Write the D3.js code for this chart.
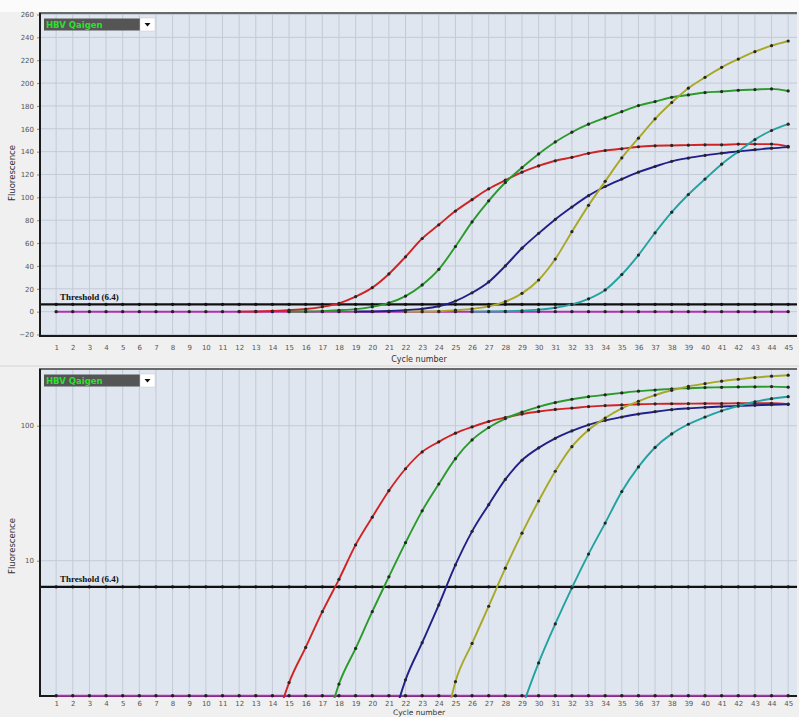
<!DOCTYPE html>
<html><head><meta charset="utf-8">
<script src="https://cdn.jsdelivr.net/npm/d3@7"></script>
<style>body{margin:0;background:#f0f0f0;overflow:hidden}</style>
</head><body><svg id="c" width="799" height="717"></svg>
<script>
// ---------- DATA ----------
const cycles = [1,2,3,4,5,6,7,8,9,10,11,12,13,14,15,16,17,18,19,20,21,22,23,24,25,26,27,28,29,30,31,32,33,34,35,36,37,38,39,40,41,42,43,44,45];
const thresholdValue = 6.4;
const legendLabel = "HBV Qaigen";
const linearTicks = [-20,0,20,40,60,80,100,120,140,160,180,200,220,240,260];
const logTicks = [10,100];

// NTC (flat) series, cycles 1..45
const ntcValues = [0,0,0,0,0,0,0,0,0,0,0,0,0,0,0,0,0,0,0,0,0,0,0,0,0,0,0,0,0,0,0,0,0,0,0,0,0,0,0,0,0,0,0,0,0];
// amplification series: first cycle + values
const redStart = 12;
const redValues = [0.05,0.15,0.5,1.25,2.28,4.19,7.28,13.1,21,33,48,64,76,88,98,107.5,115,122,127.5,132,135,138.5,141,142.5,144.3,145.1,145.4,145.7,146,146,146.6,146.6,146.6,144.6];
const greenStart = 15;
const greenValues = [0.05,0.15,0.45,1.22,2.24,4.19,7.6,13.6,23.4,37,57,78.5,97,113,126,138,148.5,157,164,169.5,175,180.3,183.8,187.6,189.6,191.7,192.6,193.7,194.3,194.9,193.1];
const blueStart = 19;
const blueValues = [0.05,0.15,0.5,1.31,2.47,4.7,9.3,16.5,26,40,55.5,68.5,80.7,91.5,101.5,109.5,116,122,127,131.5,134.4,136.7,138.7,140.2,141.7,143,144];
const oliveStart = 22;
const oliveValues = [0.03,0.1,0.35,1.27,2.44,4.6,8.8,16,27.7,46,70,93,114,134.5,151.8,168.7,183,195.5,205,213.8,221,227.5,232.7,236.8];
const tealStart = 26;
const tealValues = [0.03,0.1,0.3,0.8,1.75,3.4,6.3,11.2,19,32.5,49.5,69,87,102.5,116,129,140,150.5,158.5,164];

// ---------- STYLE ----------
const series = [
  {start: redStart, values: redValues, color: "#d02424"},
  {start: greenStart, values: greenValues, color: "#2a9a2a"},
  {start: blueStart, values: blueValues, color: "#202088"},
  {start: oliveStart, values: oliveValues, color: "#a8a826"},
  {start: tealStart, values: tealValues, color: "#22a2a0"}
];
const ntcColor = "#b030b0";
const plotBg = "#dfe6ef", gridColor = "#c3cbd7";
const L = 40, R = 797;

const svg = d3.select("#c");
svg.append("rect").attr("width",799).attr("height",717).attr("fill","#f0f0f0");
svg.append("rect").attr("width",799).attr("height",12).attr("fill","#fbfbfb");

const x = d3.scaleLinear().domain([0,45.5]).range([39.5,796.5]);

function panel(opts){
  const g = svg.append("g");
  const y = opts.y;
  const top = opts.top, bottom = opts.bottom;
  g.append("rect").attr("x",L).attr("y",top).attr("width",R-L).attr("height",bottom-top).attr("fill",plotBg);
  // vertical grid
  g.append("g").selectAll("line").data(cycles).join("line")
    .attr("x1",d=>x(d)).attr("x2",d=>x(d)).attr("y1",top).attr("y2",bottom)
    .attr("stroke",gridColor).attr("stroke-width",1);
  // horizontal grid
  g.append("g").selectAll("line").data(opts.grid).join("line")
    .attr("x1",L).attr("x2",R).attr("y1",d=>y(d)).attr("y2",d=>y(d))
    .attr("stroke",gridColor).attr("stroke-width",1);
  // y axis
  const ya = g.append("g").attr("transform",`translate(${L},0)`)
    .call(d3.axisLeft(y).tickValues(opts.ticks).tickSize(3).tickPadding(3).tickFormat(d3.format("d")));
  ya.select(".domain").remove();
  ya.selectAll("text").attr("font-family","DejaVu Sans, sans-serif").attr("font-size","7px").attr("fill","#555");
  ya.selectAll("line").attr("stroke","#888");
  // x axis
  const xa = g.append("g").attr("transform",`translate(0,${bottom})`)
    .call(d3.axisBottom(x).tickValues(cycles).tickSize(0).tickPadding(opts.xPad).tickFormat(d3.format("d")));
  xa.select(".domain").remove();
  xa.selectAll("text").attr("font-family","DejaVu Sans, sans-serif").attr("font-size","7px").attr("fill","#555");
  // borders
  g.append("line").attr("x1",L-1).attr("x2",R).attr("y1",top).attr("y2",top).attr("stroke","#6a6a6a").attr("stroke-width",2);
  g.append("line").attr("x1",L).attr("x2",L).attr("y1",top).attr("y2",bottom+1).attr("stroke","#1a1a1a").attr("stroke-width",2);
  g.append("line").attr("x1",L).attr("x2",R).attr("y1",bottom).attr("y2",bottom).attr("stroke","#1a1a1a").attr("stroke-width",2);

  // clip
  const cid = "clip"+opts.id;
  svg.append("clipPath").attr("id",cid).append("rect").attr("x",L+1).attr("y",top+1).attr("width",R-L-1).attr("height",bottom-top+1);
  const pg = g.append("g").attr("clip-path",`url(#${cid})`);
  const yv = opts.yv;

  // threshold
  pg.append("line").attr("x1",L).attr("x2",R).attr("y1",y(thresholdValue)).attr("y2",y(thresholdValue))
    .attr("stroke","#111").attr("stroke-width",2.2);
  pg.append("g").selectAll("circle").data(cycles).join("circle")
    .attr("cx",d=>x(d)).attr("cy",y(thresholdValue)).attr("r",1.7).attr("fill","#111");
  g.append("text").attr("x",60).attr("y",y(thresholdValue)-4.5).text(`Threshold (${thresholdValue})`)
    .attr("font-family","Liberation Serif, DejaVu Serif, serif").attr("font-weight","bold").attr("font-size","9px").attr("fill","#111");

  const line = d3.line().x(d=>x(d.c)).y(d=>y(yv(d.v))).curve(d3.curveMonotoneX);
  // NTC
  const ntc = cycles.map((c,i)=>({c, v: ntcValues[i]}));
  const ntcY = v => opts.ntcV(v);
  pg.append("path").datum(ntc).attr("d", d3.line().x(d=>x(d.c)).y(d=>y(ntcY(d.v)))).attr("fill","none").attr("stroke",ntcColor).attr("stroke-width",2);
  pg.append("g").selectAll("circle").data(ntc).join("circle")
    .attr("cx",d=>x(d.c)).attr("cy",d=>y(ntcY(d.v))).attr("r",1.7).attr("fill","#222");

  series.forEach(s=>{
    const pts = s.values.map((v,i)=>({c: s.start+i, v}));
    pg.append("path").datum(pts).attr("d",line).attr("fill","none").attr("stroke",s.color).attr("stroke-width",1.9);
    pg.append("g").selectAll("circle").data(pts).join("circle")
      .attr("cx",d=>x(d.c)).attr("cy",d=>y(yv(d.v))).attr("r",1.6).attr("fill","#262626");
  });

  // legend
  g.append("rect").attr("x",44).attr("y",opts.legY).attr("width",96).attr("height",12).attr("fill","#555");
  g.append("text").attr("x",46).attr("y",opts.legY+9.5).text(legendLabel)
    .attr("font-family","DejaVu Sans, sans-serif").attr("font-weight","bold").attr("font-size","8.5px").attr("fill","#2de02d");
  g.append("rect").attr("x",140).attr("y",opts.legY-0.5).attr("width",15).attr("height",13).attr("fill","#fff").attr("stroke","#ccc").attr("stroke-width",0.5);
  g.append("path").attr("d",`M144.5,${opts.legY+4.5}L150.5,${opts.legY+4.5}L147.5,${opts.legY+8}Z`).attr("fill","#111");

  // labels
  g.append("text").attr("transform",`translate(15,${opts.yLabelY}) rotate(-90)`).attr("text-anchor","middle")
    .text("Fluorescence").attr("font-family","DejaVu Sans, sans-serif").attr("font-size","8.5px").attr("fill","#333");
  g.append("text").attr("x",419).attr("y",opts.xLabelY).attr("text-anchor","middle")
    .text("Cycle number").attr("font-family","DejaVu Sans, sans-serif").attr("font-size",opts.xLabelSize).attr("fill","#333");
}

// top linear panel
const yLin = d3.scaleLinear().domain([-20,260]).range([334.5,14.5]);
panel({id:"a", y:yLin, top:13, bottom:336, grid:linearTicks, ticks:linearTicks, xPad:9,
  yv:v=>v, ntcV:v=>v, legY:18.5, yLabelY:173, xLabelY:362, xLabelSize:"8px"});

// separator
svg.append("rect").attr("x",0).attr("y",365).attr("width",799).attr("height",2).attr("fill","#e2e2e2");

// bottom log panel
const yLog = d3.scaleLog().domain([1,260]).range([695.7,369.7]);
panel({id:"b", y:yLog, top:369, bottom:696, grid:logTicks, ticks:logTicks, xPad:5,
  yv:v=>Math.max(v,0.01), ntcV:v=>Math.max(v,1), legY:374.5, yLabelY:546, xLabelY:714.5, xLabelSize:"7.5px"});
</script></body></html>
